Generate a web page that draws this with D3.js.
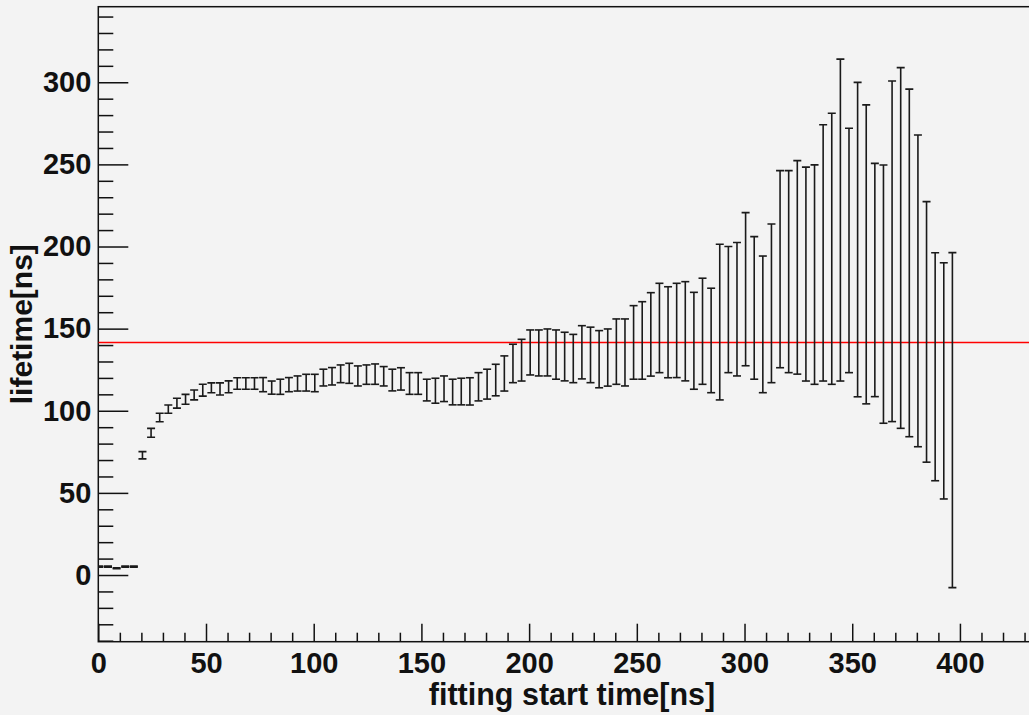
<!DOCTYPE html>
<html>
<head>
<meta charset="utf-8">
<script src="https://cdn.jsdelivr.net/npm/d3@7"></script>
<style>
  html, body { margin: 0; padding: 0; background: #f3f3f3; }
  svg { display: block; }
</style>
</head>
<body>
<svg id="chart" width="1029" height="715"></svg>
<script>
// fitting start time [ns]
var startTimes = [0.5, 4.5, 8.5, 12.5, 16.5,
  20.5, 24.5, 28.5, 32.5, 36.5, 40.5, 44.5, 48.5, 52.5, 56.5,
  60.5, 64.5, 68.5, 72.5, 76.5, 80.5, 84.5, 88.5, 92.5, 96.5,
  100.5, 104.5, 108.5, 112.5, 116.5, 120.5, 124.5, 128.5, 132.5, 136.5,
  140.5, 144.5, 148.5, 152.5, 156.5, 160.5, 164.5, 168.5, 172.5, 176.5,
  180.5, 184.5, 188.5, 192.5, 196.5, 200.5, 204.5, 208.5, 212.5, 216.5,
  220.5, 224.5, 228.5, 232.5, 236.5, 240.5, 244.5, 248.5, 252.5, 256.5,
  260.5, 264.5, 268.5, 272.5, 276.5, 280.5, 284.5, 288.5, 292.5, 296.5,
  300.5, 304.5, 308.5, 312.5, 316.5, 320.5, 324.5, 328.5, 332.5, 336.5,
  340.5, 344.5, 348.5, 352.5, 356.5, 360.5, 364.5, 368.5, 372.5, 376.5,
  380.5, 384.5, 388.5, 392.5, 396.5];

// fitted lifetime [ns]
var lifetimes = [5.1, 5.1, 4.1, 5.1, 5.1,
  72.9, 86.6, 95.9, 101.0, 104.6, 107.0, 109.6, 112.5, 114.0, 113.3,
  114.6, 116.6, 116.6, 116.6, 115.9, 114.1, 114.6, 115.9, 116.6, 117.1,
  116.9, 120.2, 121.0, 122.5, 122.8, 121.2, 122.0, 122.3, 121.0, 118.7,
  119.4, 116.6, 116.6, 112.6, 112.2, 113.4, 111.4, 111.7, 111.8, 114.6,
  116.2, 118.7, 122.7, 128.8, 130.8, 135.5, 135.2, 135.5, 134.2, 133.0,
  131.8, 135.6, 134.0, 131.4, 132.4, 136.0, 135.5, 141.6, 142.8, 146.5,
  150.4, 147.8, 148.9, 148.4, 142.6, 148.4, 142.8, 154.0, 161.6, 161.8,
  174.0, 162.6, 152.6, 165.4, 186.2, 184.7, 187.3, 183.2, 182.9, 196.1,
  198.6, 216.1, 197.6, 204.2, 195.2, 179.6, 171.0, 197.1, 199.1, 190.0,
  173.0, 148.0, 126.8, 118.2, 94.3];

// fit errors [ns]
var lifetimeErrs = [0.3, 0.3, 0.3, 0.3, 0.3,
  2.2, 2.7, 2.6, 2.5, 3.0, 3.0, 3.0, 3.6, 3.0, 3.7,
  3.6, 3.5, 3.5, 3.5, 4.3, 4.0, 4.6, 4.3, 4.6, 5.1,
  5.3, 5.1, 5.3, 5.4, 6.1, 6.1, 5.9, 6.2, 5.9, 6.6,
  6.8, 6.6, 6.6, 6.6, 7.6, 7.8, 7.8, 8.1, 8.3, 8.6,
  9.1, 9.6, 10.7, 11.7, 12.7, 13.7, 14.0, 14.3, 15.0, 14.8,
  14.7, 16.2, 16.9, 17.4, 17.4, 19.9, 20.4, 22.4, 23.6, 25.4,
  27.2, 27.7, 28.7, 30.2, 29.5, 32.3, 31.8, 47.4, 38.4, 40.6,
  46.6, 43.4, 41.6, 48.3, 60.0, 61.5, 65.0, 65.1, 66.8, 78.0,
  82.5, 98.0, 74.4, 95.7, 91.0, 71.0, 78.6, 103.7, 109.8, 105.8,
  94.9, 79.3, 69.4, 71.9, 102.0];

var refLifetime = 141.6;

var xMajorTicks = [0, 50, 100, 150, 200, 250, 300, 350, 400];
var yMajorTicks = [0, 50, 100, 150, 200, 250, 300];

var xTitle = "fitting start time[ns]";
var yTitle = "lifetime[ns]";

var drawChart = function () {
    var svg = d3.select("#chart");
    var fLeft = 98.3, fRight = 1028, fTop = 6.7, fBottom = 641.7;

    var x = d3.scaleLinear().domain([0, 431.6]).range([fLeft, fRight]);
    var y = d3.scaleLinear().domain([-40.6, 346]).range([fBottom, fTop]);

    var points = startTimes.map(function (t, i) {
        return {t: t, v: lifetimes[i], e: lifetimeErrs[i]};
    });

    var labelFont = "'Liberation Sans', Arial, Helvetica, sans-serif";

    // minor ticks every 10
    var xMinor = d3.range(0, 431, 10).filter(function (d) { return d % 50 !== 0; });
    var yMinor = d3.range(-40, 346, 10).filter(function (d) { return d % 50 !== 0; });

    svg.append("g")
        .attr("transform", "translate(0," + fBottom + ")")
        .call(d3.axisBottom(x).tickValues(xMajorTicks).tickSizeInner(-18).tickSizeOuter(0)
            .tickPadding(11).tickFormat(d3.format("d")));
    svg.append("g")
        .attr("transform", "translate(0," + fBottom + ")")
        .call(d3.axisBottom(x).tickValues(xMinor).tickSizeInner(-9).tickSizeOuter(0).tickFormat(""));

    svg.append("g")
        .attr("transform", "translate(" + fLeft + ",0)")
        .call(d3.axisLeft(y).tickValues(yMajorTicks).tickSizeInner(-30).tickSizeOuter(0)
            .tickPadding(7).tickFormat(d3.format("d")));
    svg.append("g")
        .attr("transform", "translate(" + fLeft + ",0)")
        .call(d3.axisLeft(y).tickValues(yMinor).tickSizeInner(-15).tickSizeOuter(0).tickFormat(""));

    svg.selectAll(".domain").remove();
    svg.selectAll(".tick line").attr("stroke", "#111").attr("stroke-width", 1.5);
    svg.selectAll(".tick text").attr("font-size", 29).attr("fill", "#111")
        .attr("font-family", labelFont).attr("font-weight", "bold");

    // frame (right edge runs past the picture)
    svg.append("rect")
        .attr("x", fLeft).attr("y", fTop)
        .attr("width", 1035 - fLeft).attr("height", fBottom - fTop)
        .attr("fill", "none").attr("stroke", "#111").attr("stroke-width", 1.5);

    svg.append("clipPath").attr("id", "frameClip")
        .append("rect")
        .attr("x", fLeft).attr("y", fTop)
        .attr("width", 1035 - fLeft).attr("height", fBottom - fTop);

    var plot = svg.append("g").attr("clip-path", "url(#frameClip)");

    // reference lifetime line
    plot.append("line")
        .attr("x1", fLeft).attr("x2", 1035)
        .attr("y1", y(refLifetime)).attr("y2", y(refLifetime))
        .attr("stroke", "#ff0000").attr("stroke-width", 1.6);

    // error bars
    var capHalf = 4;
    var bars = plot.selectAll("g.err").data(points).enter()
        .append("g").attr("class", "err")
        .attr("stroke", "#1a1a1a").attr("stroke-width", 1.6);

    bars.append("line")
        .attr("x1", function (d) { return x(d.t); })
        .attr("x2", function (d) { return x(d.t); })
        .attr("y1", function (d) { return y(d.v + d.e); })
        .attr("y2", function (d) { return y(d.v - d.e); });
    bars.append("line")
        .attr("x1", function (d) { return x(d.t) - capHalf; })
        .attr("x2", function (d) { return x(d.t) + capHalf; })
        .attr("y1", function (d) { return y(d.v + d.e); })
        .attr("y2", function (d) { return y(d.v + d.e); });
    bars.append("line")
        .attr("x1", function (d) { return x(d.t) - capHalf; })
        .attr("x2", function (d) { return x(d.t) + capHalf; })
        .attr("y1", function (d) { return y(d.v - d.e); })
        .attr("y2", function (d) { return y(d.v - d.e); });

    // axis titles
    svg.append("text")
        .attr("x", 572).attr("y", 705)
        .attr("text-anchor", "middle")
        .attr("font-family", labelFont).attr("font-weight", "bold")
        .attr("font-size", 30.5).attr("fill", "#111")
        .text(xTitle);

    svg.append("text")
        .attr("transform", "translate(32," + ((fTop + fBottom) / 2) + ") rotate(-90)")
        .attr("text-anchor", "middle")
        .attr("font-family", labelFont).attr("font-weight", "bold")
        .attr("font-size", 30).attr("fill", "#111")
        .text(yTitle);
};

drawChart();
</script>
</body>
</html>
